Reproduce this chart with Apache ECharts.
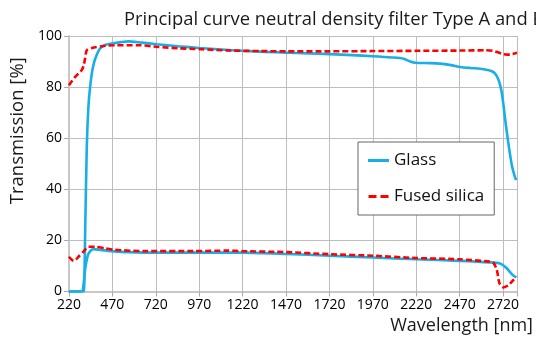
<!DOCTYPE html>
<html>
<head>
<meta charset="utf-8">
<script src="https://cdn.jsdelivr.net/npm/echarts@6/dist/echarts.min.js"></script>
<style>
  html, body { margin: 0; padding: 0; background: #fff; }
  #chart { width: 536px; height: 340px; }
</style>
</head>
<body>
<div id="chart"></div>
<script>
// [wavelength nm, transmission %]
const glassUpper = [
  [220, 0], [300, 0], [306, 0], [314, 25], [323, 57], [332, 72], [342, 80], [356, 87],
  [371, 91], [398, 95], [426, 96.4], [470, 97.1], [520, 97.6], [562, 97.9], [640, 97.4],
  [725, 96.8], [850, 96], [970, 95.3], [1100, 94.7], [1220, 94.2], [1350, 93.8],
  [1470, 93.5], [1600, 93.2], [1720, 92.9], [1850, 92.5], [1970, 92.1], [2080, 91.6],
  [2147, 91.1], [2185, 90], [2215, 89.5], [2300, 89.4], [2359, 89.2], [2420, 88.6],
  [2473, 87.9], [2530, 87.5], [2588, 87.2], [2630, 86.7], [2655, 86.2], [2675, 85.2],
  [2691, 83.3], [2702, 81], [2712, 78], [2722, 73], [2731, 67.8], [2749, 58.6],
  [2770, 49.5], [2785, 45.5], [2795, 43.6]
];
const glassLower = [
  [220, 0], [290, 0], [300, 0.5], [313, 8.4], [323, 12.5], [333, 14.9], [362, 16.6],
  [409, 16.2], [467, 15.8], [562, 15.4], [753, 15.2], [1000, 15.2], [1220, 15.2],
  [1470, 14.7], [1720, 14], [1970, 13.3], [2220, 12.6], [2470, 12], [2645, 11.4],
  [2703, 11], [2722, 10.2], [2741, 9.1], [2770, 6.8], [2795, 5.5]
];
const silicaUpper = [
  [220, 80.7], [240, 82.6], [256, 84], [275, 85.3], [295, 86.8], [305, 88.5], [313, 91.2],
  [323, 94.4], [352, 95.3], [409, 96], [484, 96.4], [620, 96.4], [734, 95.7], [850, 95.2],
  [983, 94.8], [1150, 94.3], [1327, 94.1], [1470, 94], [1720, 94], [1970, 94.1],
  [2220, 94.2], [2470, 94.3], [2620, 94.4], [2660, 94.2], [2690, 93.6], [2720, 92.9],
  [2745, 92.7], [2770, 92.9], [2800, 93.4]
];
const silicaLower = [
  [220, 13.6], [235, 12.5], [247, 12], [262, 12.6], [275, 13.6], [304, 15.6], [333, 17.5],
  [371, 17.5], [427, 16.9], [484, 16.3], [656, 15.8], [943, 15.8], [1136, 16],
  [1220, 15.8], [1470, 15.4], [1720, 14.6], [1970, 14], [2220, 13.1], [2470, 12.6],
  [2645, 11.7], [2663, 11.4], [2684, 8.4], [2699, 3.2], [2722, 1.6], [2751, 2.5],
  [2779, 4.5], [2798, 5.8]
];

const blue = '#19aee6';
const red = '#ff0000';
const font = '"Open Sans", "DejaVu Sans", sans-serif';

const chart = echarts.init(document.getElementById('chart'));

const lineSeries = (name, data, color, dashed) => ({
  name: name,
  type: 'line',
  data: data,
  symbol: 'none',
  smooth: 0.25,
  lineStyle: { color: color, width: 2.6, type: dashed ? [6, 3] : 'solid' },
  itemStyle: { color: color },
  z: dashed ? 3 : 2
});

chart.setOption({
  backgroundColor: '#fff',
  animation: false,
  textStyle: { fontFamily: font },
  title: {
    text: 'Principal curve neutral density filter Type A and B',
    left: 119,
    top: 6,
    textStyle: { fontFamily: font, fontSize: 18.4, fontWeight: 'normal', color: '#1a1a1a' }
  },
  legend: {
    data: [
      { name: 'Glass', icon: 'rect', itemStyle: { color: blue } },
      { name: 'Fused silica', icon: 'path://M0,0h8v3h-8z M12,0h8v3h-8z', itemStyle: { color: red } }
    ],
    orient: 'vertical',
    left: 358,
    top: 142,
    padding: [10, 10, 10, 10],
    itemGap: 19,
    itemWidth: 21,
    itemHeight: 3,
    backgroundColor: '#fff',
    borderColor: '#666',
    borderWidth: 1,
    textStyle: { fontFamily: font, fontSize: 17, color: '#111', lineHeight: 17 }
  },
  grid: { left: 67, right: 19, top: 36, bottom: 48.5 },
  xAxis: {
    type: 'value',
    min: 220,
    max: 2800,
    interval: 250,
    name: 'Wavelength [nm]',
    nameLocation: 'end',
    nameGap: 16,
    nameTextStyle: {
      fontFamily: font, fontSize: 18, color: '#1a1a1a',
      align: 'right', verticalAlign: 'top', padding: [25, 0, 0, 0]
    },
    axisLine: { lineStyle: { color: '#c8c8c8', width: 2 } },
    axisTick: { show: true, length: 5, lineStyle: { color: '#aaa' } },
    axisLabel: {
      fontFamily: font, fontSize: 14, color: '#000', margin: 7,
      formatter: v => (v > 2750 ? '' : String(v))
    },
    splitLine: { show: true, lineStyle: { color: '#bdbdbd', width: 1 } }
  },
  yAxis: {
    type: 'value',
    min: 0,
    max: 100,
    interval: 20,
    name: 'Transmission [%]',
    nameLocation: 'middle',
    nameGap: 33,
    nameTextStyle: { fontFamily: font, fontSize: 18.5, color: '#1a1a1a', padding: [0, 0, 0, 66] },
    axisLine: { show: true, lineStyle: { color: '#c8c8c8', width: 2 } },
    axisTick: { show: true, length: 5, lineStyle: { color: '#aaa' } },
    axisLabel: { fontFamily: font, fontSize: 14, color: '#000', margin: 7 },
    splitLine: { show: true, lineStyle: { color: '#bdbdbd', width: 1 } }
  },
  series: [
    lineSeries('Glass', glassUpper, blue, false),
    lineSeries('Glass', glassLower, blue, false),
    lineSeries('Fused silica', silicaUpper, red, true),
    lineSeries('Fused silica', silicaLower, red, true)
  ]
});
</script>
</body>
</html>
